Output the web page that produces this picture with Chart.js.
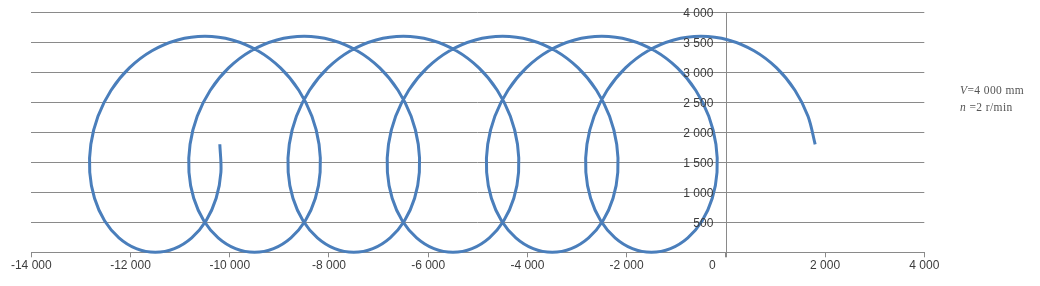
<!DOCTYPE html>
<html>
<head>
<meta charset="utf-8">
<script src="https://cdn.jsdelivr.net/npm/chart.js@4.4.1/dist/chart.umd.min.js"></script>
<style>
  html, body { margin: 0; padding: 0; background: #fff; }
  #wrap { position: relative; width: 1040px; height: 286px; }
  canvas { position: absolute; left: 0; top: 0; }
  .note { position: absolute; left: 960px; font-family: "Liberation Serif", "DejaVu Serif", serif; font-size: 11.5px; color: #555; letter-spacing: 0.4px; white-space: nowrap; line-height: 1; }
</style>
</head>
<body>
<div id="wrap">
  <canvas id="c" width="1040" height="286"></canvas>
  <div class="note" style="top:85px"><i>V</i>=4 000 mm</div>
  <div class="note" style="top:102px"><i>n</i> =2 r/min</div>
</div>
<script>
// Path points (x in mm, y in mm)
const pathX = [
  1800, 1656, 1392, 1023, 567, 49, -500, -1049, -1567, -2023, -2392, -2656,
  -2800, -2822, -2726, -2523, -2233, -1883, -1500, -1117, -767, -477, -274, -178,
  -200, -344, -608, -977, -1433, -1951, -2500, -3049, -3567, -4023, -4392, -4656,
  -4800, -4822, -4726, -4523, -4233, -3883, -3500, -3117, -2767, -2477, -2274, -2178,
  -2200, -2344, -2608, -2977, -3433, -3951, -4500, -5049, -5567, -6023, -6392, -6656,
  -6800, -6822, -6726, -6523, -6233, -5883, -5500, -5117, -4767, -4477, -4274, -4178,
  -4200, -4344, -4608, -4977, -5433, -5951, -6500, -7049, -7567, -8023, -8392, -8656,
  -8800, -8822, -8726, -8523, -8233, -7883, -7500, -7117, -6767, -6477, -6274, -6178,
  -6200, -6344, -6608, -6977, -7433, -7951, -8500, -9049, -9567, -10023, -10392, -10656,
  -10800, -10822, -10726, -10523, -10233, -9883, -9500, -9117, -8767, -8477, -8274, -8178,
  -8200, -8344, -8608, -8977, -9433, -9951, -10500, -11049, -11567, -12023, -12392, -12656,
  -12800, -12822, -12726, -12523, -12233, -11883, -11500, -11117, -10767, -10477, -10274, -10178,
  -10200
];
const pathY = [
  1800, 2266, 2700, 3073, 3359, 3539, 3600, 3539, 3359, 3073, 2700, 2266,
  1800, 1334, 900, 527, 241, 61, 0, 61, 241, 527, 900, 1334,
  1800, 2266, 2700, 3073, 3359, 3539, 3600, 3539, 3359, 3073, 2700, 2266,
  1800, 1334, 900, 527, 241, 61, 0, 61, 241, 527, 900, 1334,
  1800, 2266, 2700, 3073, 3359, 3539, 3600, 3539, 3359, 3073, 2700, 2266,
  1800, 1334, 900, 527, 241, 61, 0, 61, 241, 527, 900, 1334,
  1800, 2266, 2700, 3073, 3359, 3539, 3600, 3539, 3359, 3073, 2700, 2266,
  1800, 1334, 900, 527, 241, 61, 0, 61, 241, 527, 900, 1334,
  1800, 2266, 2700, 3073, 3359, 3539, 3600, 3539, 3359, 3073, 2700, 2266,
  1800, 1334, 900, 527, 241, 61, 0, 61, 241, 527, 900, 1334,
  1800, 2266, 2700, 3073, 3359, 3539, 3600, 3539, 3359, 3073, 2700, 2266,
  1800, 1334, 900, 527, 241, 61, 0, 61, 241, 527, 900, 1334,
  1800
];
const xTickValues = [-14000, -12000, -10000, -8000, -6000, -4000, -2000, 0, 2000, 4000];
const yTickValues = [500, 1000, 1500, 2000, 2500, 3000, 3500, 4000];

function fmt(v) {
  const s = Math.abs(v).toString().replace(/\B(?=(\d{3})+(?!\d))/g, ' ');
  return (v < 0 ? '-' : '') + s;
}

const GRID = '#8a8a8a';
const TEXT = '#3c3c3c';
const FONT = { family: '"Liberation Sans", Arial, sans-serif', size: 12 };

const points = pathX.map((x, i) => ({ x: x, y: pathY[i] }));

const centerAxis = {
  id: 'centerAxis',
  beforeDatasetsDraw(chart) {
    const { ctx, scales: { x, y } } = chart;
    const px = Math.round(x.getPixelForValue(0)) + 0.5;
    ctx.save();
    ctx.strokeStyle = GRID;
    ctx.lineWidth = 1;
    ctx.beginPath();
    ctx.moveTo(px, y.getPixelForValue(4000));
    ctx.lineTo(px, y.getPixelForValue(0) + 5);
    ctx.stroke();
    ctx.restore();
  },
  afterDatasetsDraw(chart) {
    const { ctx, scales: { x, y } } = chart;
    const px = x.getPixelForValue(0);
    ctx.save();
    ctx.fillStyle = TEXT;
    ctx.font = FONT.size + 'px ' + FONT.family;
    ctx.textAlign = 'right';
    ctx.textBaseline = 'middle';
    yTickValues.forEach(v => {
      ctx.fillText(fmt(v), px - 12.5, y.getPixelForValue(v) + 1);
    });
    ctx.textAlign = 'center';
    ctx.fillText('0', px - 13.5, y.getPixelForValue(0) + 13);
    ctx.restore();
  }
};

new Chart(document.getElementById('c'), {
  type: 'scatter',
  data: {
    datasets: [{
      data: points,
      showLine: true,
      borderColor: '#4a7ebb',
      backgroundColor: '#4a7ebb',
      borderWidth: 3,
      pointRadius: 0,
      tension: 0.34,
      clip: false
    }]
  },
  options: {
    responsive: false,
    animation: false,
    layout: { padding: { left: 31.3, right: 115.7, top: 12.3, bottom: 0 } },
    plugins: { legend: { display: false }, tooltip: { enabled: false } },
    scales: {
      x: {
        type: 'linear',
        position: 'bottom',
        min: -14000,
        max: 4000,
        afterBuildTicks: s => { s.ticks = xTickValues.map(v => ({ value: v })); },
        afterFit: s => { s.height = 33.7; },
        ticks: {
          color: TEXT,
          font: FONT,
          padding: 1,
          maxRotation: 0,
          autoSkip: false,
          callback: v => (v === 0 ? '' : fmt(v))
        },
        grid: { drawOnChartArea: false, drawTicks: true, tickLength: 5, color: GRID },
        border: { display: true, color: GRID }
      },
      y: {
        type: 'linear',
        position: 'left',
        min: 0,
        max: 4000,
        afterBuildTicks: s => { s.ticks = [0].concat(yTickValues).map(v => ({ value: v })); },
        afterFit: s => { s.width = 0; },
        ticks: { display: false },
        grid: { drawTicks: false, color: GRID },
        border: { display: false }
      }
    }
  },
  plugins: [centerAxis]
});
</script>
</body>
</html>
